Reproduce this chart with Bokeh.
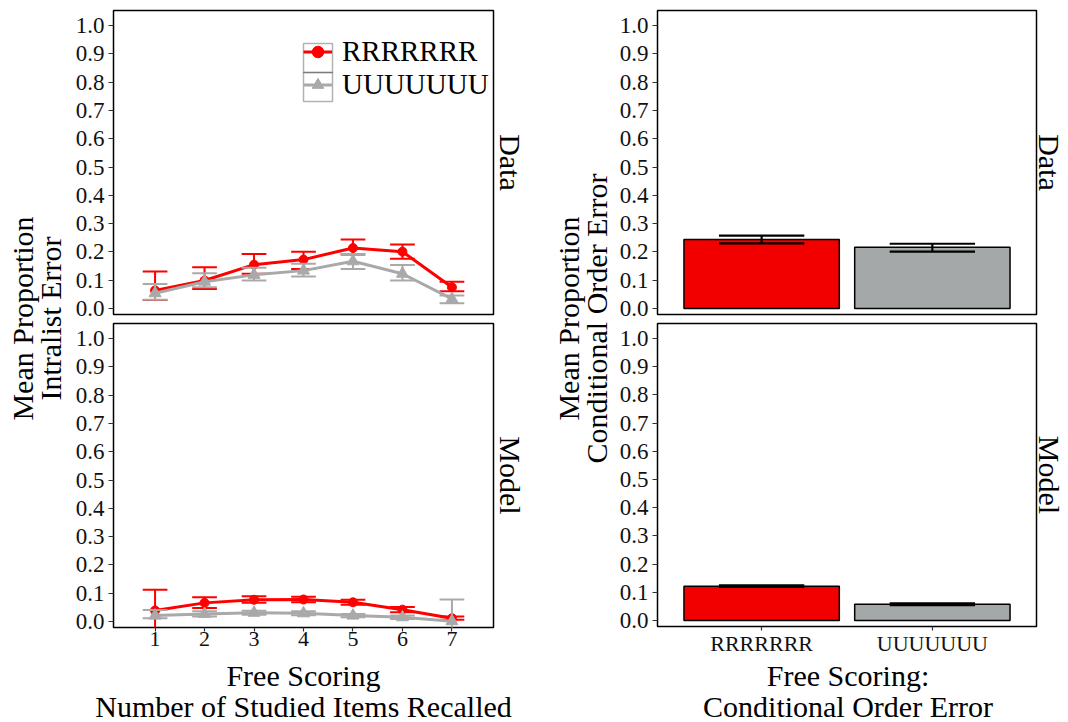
import math
from bokeh.plotting import figure
from bokeh.layouts import row, column
from bokeh.models import (FixedTicker, Legend, LegendItem, BoxAnnotation, Label,
                          Range1d, PrintfTickFormatter, LinearAxis)
from bokeh.embed import file_html
from bokeh.resources import INLINE

# ---------------- data ----------------
items = [1, 2, 3, 4, 5, 6, 7]
conditions = ["RRRRRRR", "UUUUUUU"]

# Intralist error by number of studied items recalled (Data facet)
data_r_mean = [0.064, 0.099, 0.155, 0.173, 0.214, 0.201, 0.075]
data_r_lo = [0.030, 0.069, 0.123, 0.140, 0.191, 0.176, 0.061]
data_r_hi = [0.131, 0.146, 0.193, 0.201, 0.244, 0.226, 0.095]
data_u_mean = [0.054, 0.095, 0.119, 0.134, 0.167, 0.123, 0.034]
data_u_lo = [0.031, 0.075, 0.099, 0.113, 0.140, 0.099, 0.019]
data_u_hi = [0.087, 0.125, 0.144, 0.158, 0.193, 0.154, 0.046]

# Intralist error (Model facet)
model_r_mean = [0.039, 0.066, 0.077, 0.078, 0.068, 0.042, 0.012]
model_r_lo = [-0.034, 0.048, 0.066, 0.068, 0.059, 0.033, 0.006]
model_r_hi = [0.112, 0.086, 0.089, 0.088, 0.077, 0.051, 0.018]
model_u_mean = [0.021, 0.027, 0.031, 0.029, 0.021, 0.015, 0.001]
model_u_lo = [0.012, 0.018, 0.024, 0.022, 0.015, 0.009, -0.076]
model_u_hi = [0.041, 0.036, 0.038, 0.036, 0.027, 0.021, 0.078]

# Conditional order error
cond_data_mean = [0.244, 0.217]
cond_data_lo = [0.230, 0.201]
cond_data_hi = [0.258, 0.229]
cond_model_mean = [0.122, 0.058]
cond_model_lo = [0.119, 0.055]
cond_model_hi = [0.125, 0.061]

y_ticks = [0.0, 0.1, 0.2, 0.3, 0.4, 0.5, 0.6, 0.7, 0.8, 0.9, 1.0]

left_x_title = ["Free Scoring", "Number of Studied Items Recalled"]
right_x_title = ["Free Scoring:", "Conditional Order Error"]

# ---------------- style ----------------
FONT = "Liberation Serif"
RED = "#FF0000"
GREY = "#A9A9A9"
BAR_RED = "#F20000"
BAR_GREY = "#A5A8A8"
Y_MIN, Y_MAX = -0.021, 1.053
LX_MIN, LX_MAX = 0.16, 7.84
RX_MIN, RX_MAX = 0.39, 2.61
TITLE_SIZE = "30px"
TICK_SIZE = "23px"
TOP_H, BOT_H, XTITLE_H = 322, 336, 64
UPPER_H = TOP_H + BOT_H


def base_figure(width, height, x_range, left, right, top, bottom, show_x):
    p = figure(width=width, height=height, x_range=x_range,
               y_range=Range1d(Y_MIN, Y_MAX), output_backend="svg",
               toolbar_location=None, min_border_left=left,
               min_border_right=right, min_border_top=top,
               min_border_bottom=bottom,
               x_axis_location="below" if show_x else None)
    p.grid.visible = False
    p.outline_line_color = "black"
    p.outline_line_width = 1.5
    p.background_fill_color = "white"
    p.border_fill_color = "white"
    axes = [p.yaxis[0]] + ([p.xaxis[0]] if show_x else [])
    for ax in axes:
        ax.axis_line_color = None
        ax.major_tick_in = 0
        ax.major_tick_out = 5
        ax.major_tick_line_color = "#333333"
        ax.major_tick_line_width = 1.2
        ax.minor_tick_line_color = None
        ax.major_label_text_font = FONT
        ax.major_label_text_font_size = TICK_SIZE
        ax.major_label_text_color = "#111111"
    p.yaxis.ticker = FixedTicker(ticks=y_ticks)
    p.yaxis.formatter = PrintfTickFormatter(format="%.1f")
    p.yaxis.major_label_standoff = 4
    if show_x:
        p.xaxis.major_tick_out = 4
        p.xaxis.major_label_standoff = 0
        p.xaxis.major_label_text_font_size = "22px"
    return p


def strip_label(p, text, standoff, label_standoff):
    # facet strip text on the right-hand side of the panel
    ax = LinearAxis(axis_label=text, ticker=FixedTicker(ticks=[]),
                    axis_line_color=None, major_tick_line_color=None,
                    minor_tick_line_color=None, major_tick_out=0,
                    major_tick_in=0, axis_label_standoff=standoff,
                    major_label_standoff=label_standoff,
                    axis_label_text_font=FONT,
                    axis_label_text_font_size=TITLE_SIZE,
                    axis_label_text_font_style="normal",
                    axis_label_text_color="black")
    p.add_layout(ax, "right")


def errorbars(p, xs, lo, hi, color, half, width):
    p.segment(x0=xs, y0=lo, x1=xs, y1=hi, line_color=color, line_width=width)
    p.segment(x0=[x - half for x in xs], y0=hi, x1=[x + half for x in xs], y1=hi,
              line_color=color, line_width=width)
    p.segment(x0=[x - half for x in xs], y0=lo, x1=[x + half for x in xs], y1=lo,
              line_color=color, line_width=width)


def line_panel(r_mean, r_lo, r_hi, u_mean, u_lo, u_hi, strip, bottom):
    p = base_figure(470, BOT_H if bottom else TOP_H, Range1d(LX_MIN, LX_MAX),
                    43, 47, 1 if bottom else 10, 31 if bottom else 8, bottom)
    errorbars(p, items, r_lo, r_hi, RED, 0.25, 2)
    r_line = p.line(items, r_mean, line_color=RED, line_width=3)
    r_pts = p.scatter(items, r_mean, marker="circle", size=9,
                      fill_color=RED, line_color=RED)
    errorbars(p, items, u_lo, u_hi, GREY, 0.25, 2)
    u_line = p.line(items, u_mean, line_color=GREY, line_width=3)
    u_pts = p.scatter(items, u_mean, marker="triangle", size=12,
                      fill_color=GREY, line_color=GREY)
    if bottom:
        p.xaxis.ticker = FixedTicker(ticks=items)
    strip_label(p, strip, 0, 5)
    return p, [(conditions[0], [r_line, r_pts]), (conditions[1], [u_line, u_pts])]


def bar_panel(mean, lo, hi, strip, bottom):
    p = base_figure(452, BOT_H if bottom else TOP_H, Range1d(RX_MIN, RX_MAX),
                    41, 30, 1 if bottom else 10, 31 if bottom else 8, bottom)
    xs = [i + 1 for i in range(len(conditions))]
    p.vbar(x=xs, top=mean, bottom=0, width=0.91,
           fill_color=[BAR_RED, BAR_GREY], line_color="black", line_width=1.5)
    errorbars(p, xs, lo, hi, "black", 0.25, 2.2)
    if bottom:
        p.xaxis.ticker = FixedTicker(ticks=xs)
        p.xaxis.major_label_overrides = {x: c for x, c in zip(xs, conditions)}
    strip_label(p, strip, -4, 0)
    return p


def blank_figure(width, height):
    p = figure(width=width, height=height, x_range=Range1d(0, width),
               y_range=Range1d(0, height), output_backend="svg",
               toolbar_location=None, min_border=0,
               x_axis_location=None, y_axis_location=None)
    p.grid.visible = False
    p.outline_line_color = None
    return p


def y_title_figure(width, text, cx):
    p = blank_figure(width, UPPER_H)
    p.add_layout(Label(x=cx, y=UPPER_H - 318, text=text, angle=math.pi / 2,
                       text_align="center", text_baseline="middle",
                       text_font=FONT, text_font_size=TITLE_SIZE,
                       text_line_height=0.85, text_color="black"))
    return p


def x_title_figure(width, titles):
    # both x-axis titles share one strip below the panels
    p = blank_figure(width, XTITLE_H)
    for lines, cx in titles:
        for text, y in zip(lines, [47, 16]):
            p.add_layout(Label(x=cx, y=y, text=text, text_align="center",
                               text_baseline="middle", text_font=FONT,
                               text_font_size=TITLE_SIZE, text_color="black"))
    return p


lt, legend_entries = line_panel(data_r_mean, data_r_lo, data_r_hi,
                                data_u_mean, data_u_lo, data_u_hi, "Data", False)
lb, _ = line_panel(model_r_mean, model_r_lo, model_r_hi,
                   model_u_mean, model_u_lo, model_u_hi, "Model", True)
rt = bar_panel(cond_data_mean, cond_data_lo, cond_data_hi, "Data", False)
rb = bar_panel(cond_model_mean, cond_model_lo, cond_model_hi, "Model", True)

# legend inside the upper-left panel, with outlined key boxes
KEY = 29
legend = Legend(items=[LegendItem(label=lab, renderers=rs) for lab, rs in legend_entries],
                location=(190, 213), padding=0, margin=0, spacing=0,
                glyph_width=KEY, glyph_height=KEY, label_height=KEY,
                label_standoff=10, border_line_color=None,
                background_fill_alpha=0, label_text_font=FONT,
                label_text_font_size="29px", label_text_color="black",
                label_text_baseline="middle")
lt.add_layout(legend)
px_x = (LX_MAX - LX_MIN) / 380.0
px_y = (Y_MAX - Y_MIN) / 304.0
key_left = LX_MIN + 190 * px_x
for k in range(len(legend_entries)):
    top = Y_MIN + (213 + KEY * (len(legend_entries) - k)) * px_y
    lt.add_layout(BoxAnnotation(left=key_left, right=key_left + KEY * px_x,
                                top=top, bottom=top - KEY * px_y,
                                fill_alpha=0, line_color="black", line_width=1.5))

left_title = y_title_figure(70, "Mean Proportion\nIntralist Error", 36)
right_title = y_title_figure(76, "Mean Proportion\nConditional Order Error", 42)
x_titles = x_title_figure(1068, [(left_x_title, 70 + 43 + 190),
                                 (right_x_title, 70 + 470 + 76 + 41 + 190.5)])

upper = row(left_title, column(lt, lb), right_title, column(rt, rb))
layout = column(upper, x_titles)

with open("out.html", "w") as f:
    f.write(file_html(layout, INLINE))
